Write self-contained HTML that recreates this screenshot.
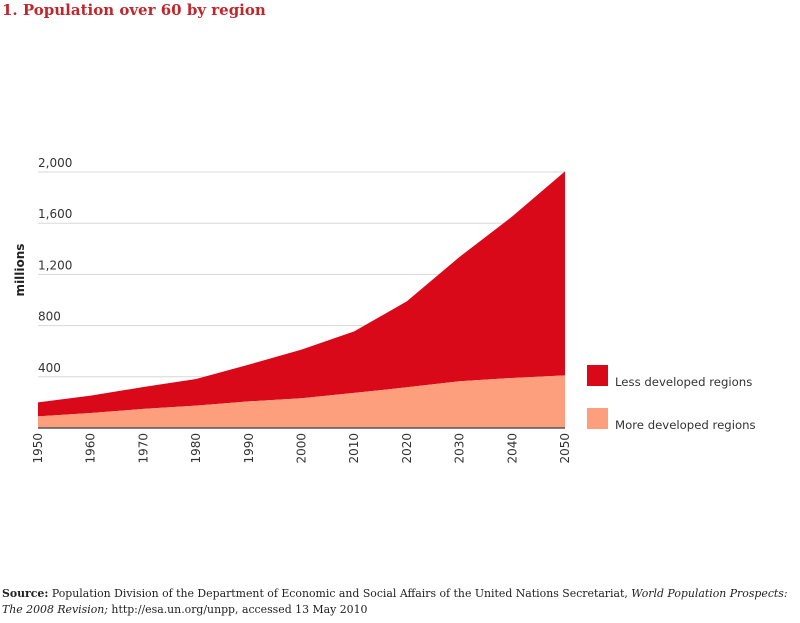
<!DOCTYPE html>
<html><head><meta charset="utf-8">
<style>
body{margin:0;background:#fff;width:800px;height:623px;overflow:hidden;font-family:"DejaVu Sans",sans-serif}
#title{position:absolute;left:2px;top:1px;font-family:"DejaVu Serif",serif;font-weight:bold;font-size:15px;color:#c0272d}
#source{position:absolute;left:2px;top:586px;font-family:"DejaVu Serif",serif;font-size:10.9px;color:#222;line-height:16px;white-space:nowrap}
svg{position:absolute;left:0;top:0}
</style></head><body>
<div id="title">1. Population over 60 by region</div>
<svg id="chart" width="800" height="623"></svg>
<div id="source"><b>Source:</b> Population Division of the Department of Economic and Social Affairs of the United Nations Secretariat, <i>World Population Prospects:<br>The 2008 Revision;</i> http://esa.un.org/unpp, accessed 13 May 2010</div>
<script>
const years=[1950,1960,1970,1980,1990,2000,2010,2020,2030,2040,2050];
const moreDeveloped=[91,117,149,175,208,232,274,318,365,391,411];
const lessDeveloped=[109,136,171,208,287,380,481,672,972,1262,1594];
const yTicks=[400,800,1200,1600,2000];
const yTickLabels=["400","800","1,200","1,600","2,000"];
const ns="http://www.w3.org/2000/svg";
const svg=document.getElementById('chart');
const X0=38,X1=565,Y0=428,Y2000=172;
function xs(y){return X0+(y-1950)/100*(X1-X0);}
function ys(v){return Y0-v/2000*(Y0-Y2000);}
function mk(t,a){const e=document.createElementNS(ns,t);for(const k in a)e.setAttribute(k,a[k]);svg.appendChild(e);return e;}
yTicks.forEach((v,i)=>{
  const g=mk('line',{x1:X0,x2:X1,y1:ys(v),y2:ys(v),stroke:'#d8d8d8','stroke-width':1});
  
  
  const t=mk('text',{x:X0,y:ys(v)-5,'font-size':12,fill:'#333'});
  t.textContent=yTickLabels[i];
  
  
});
const totals=years.map((y,i)=>moreDeveloped[i]+lessDeveloped[i]);
let dL='M'+years.map((y,i)=>xs(y)+','+ys(totals[i])).join('L');
dL+='L'+years.slice().reverse().map((y,j)=>{const i=years.length-1-j;return xs(y)+','+ys(moreDeveloped[i]);}).join('L')+'Z';
const pL=mk('path',{d:dL,fill:'#d9091a'});


let dM='M'+years.map((y,i)=>xs(y)+','+ys(moreDeveloped[i])).join('L')+'L'+xs(2050)+','+Y0+'L'+xs(1950)+','+Y0+'Z';
const pM=mk('path',{d:dM,fill:'#fd9f7c'});


const ax=mk('line',{x1:X0,x2:X1,y1:Y0,y2:Y0,stroke:'#555','stroke-width':1.5});


years.forEach(y=>{
  const t=mk('text',{x:0,y:0,'font-size':12,fill:'#333','text-anchor':'end',transform:`translate(${xs(y)+4},433) rotate(-90)`});
  t.textContent=y;
  
  
});
const yt=mk('text',{x:0,y:0,'font-size':12,'font-weight':'bold',fill:'#222','text-anchor':'middle',transform:'translate(24,270) rotate(-90)'});
yt.textContent='millions';


const leg=[['#d9091a','Less developed regions',365],['#fd9f7c','More developed regions',408]];
leg.forEach(l=>{
  const r=mk('rect',{x:587,y:l[2],width:21,height:21,fill:l[0]});
  
  
  const t=mk('text',{x:615,y:l[2]+21,'font-size':11.7,fill:'#333'});
  t.textContent=l[1];
  
  
});
</script>
</body></html>
